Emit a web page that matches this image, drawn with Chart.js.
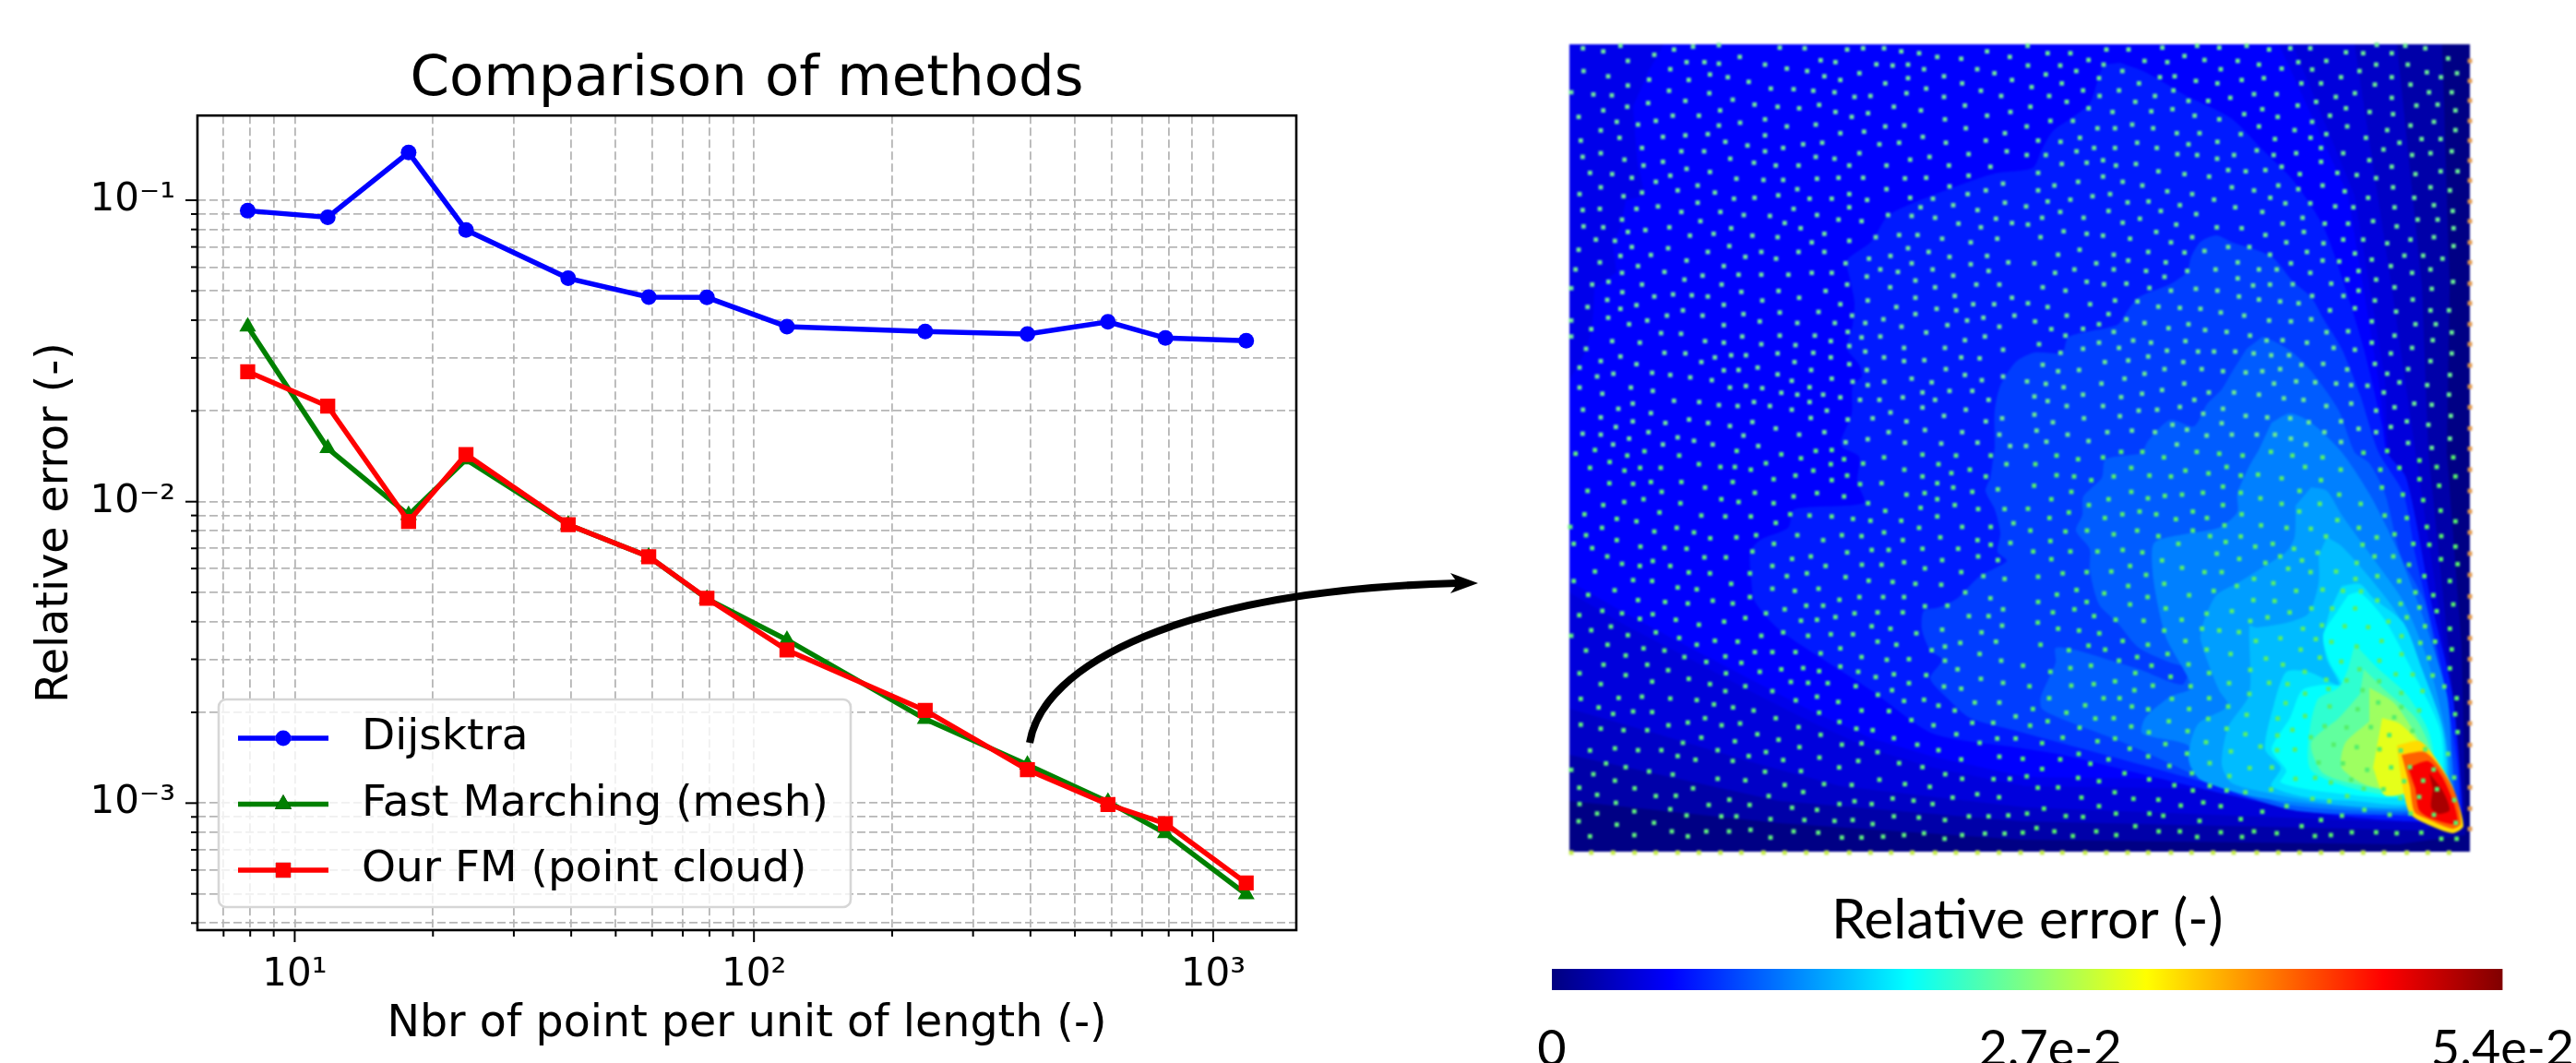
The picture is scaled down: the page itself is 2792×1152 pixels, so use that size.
<!DOCTYPE html>
<html>
<head>
<meta charset="utf-8">
<script src="https://cdn.jsdelivr.net/npm/chart.js@4/dist/chart.umd.js"></script>
<style>
html, body { margin: 0; padding: 0; background: #fff; overflow: hidden; }
#page { position: relative; width: 2792px; height: 1152px; overflow: hidden; }
.box { position: absolute; }
#heatBox { left: 1691px; top: 38px; width: 996px; height: 895px; filter: blur(1.2px); }
#errorBox { left: 0; top: 0; width: 1660px; height: 1152px; }
#barBox { left: 1600px; top: 940px; width: 1192px; height: 212px; }
#arrow { position: absolute; left: 0; top: 0; }
</style>
</head>
<body>
<div id="page">
  <div class="box" id="errorBox"><canvas id="errorChart"></canvas></div>
  <div class="box" id="heatBox"><canvas id="heatChart"></canvas></div>
  <div class="box" id="barBox"><canvas id="barChart"></canvas></div>
  <svg id="arrow" width="2792" height="1152">
    <path d="M1116 805 C1130 720 1280 640 1580 632" fill="none" stroke="#000" stroke-width="8"/>
    <path d="M1602 632 L1572 621 L1580 632 L1572 643 Z" fill="#000"/>
  </svg>
</div>
<script>
// Convergence curves
const pointsPerLength = [7.9, 11.8, 17.7, 23.6, 39.4, 59, 79, 118, 236, 394, 590, 787, 1180];
const dijkstra = [0.0923, 0.0878, 0.144, 0.0797, 0.0551, 0.0477, 0.0476, 0.0381, 0.0367, 0.036, 0.0395, 0.0349, 0.0342];
const fastMarching = [0.0381, 0.01503, 0.00903, 0.0138, 0.00839, 0.00657, 0.00476, 0.00348, 0.0019, 0.00134, 0.00101, 0.000794, 0.000498];
const ourFm = [0.027, 0.02075, 0.0086, 0.01434, 0.00839, 0.00657, 0.00478, 0.00322, 0.00203, 0.00129, 0.00099, 0.000855, 0.000543];
const xGridTicks = [7, 8, 9, 10, 20, 30, 40, 50, 60, 70, 80, 90, 100, 200, 300, 400, 500, 600, 700, 800, 900, 1000];
const yGridTicks = [0.0004, 0.0005, 0.0006, 0.0007, 0.0008, 0.0009, 0.001, 0.002, 0.003, 0.004, 0.005, 0.006, 0.007, 0.008, 0.009, 0.01, 0.02, 0.03, 0.04, 0.05, 0.06, 0.07, 0.08, 0.09, 0.1];
const xDecadeLabels = { 10: '10¹', 100: '10²', 1000: '10³' };
const yDecadeLabels = { 0.001: '10⁻³', 0.01: '10⁻²', 0.1: '10⁻¹' };

// Error field: one value per contour band, outermost first
const fieldLevels = [0.0003, 0.0022, 0.0038, 0.0049, 0.0057, 0.0067, 0.0081, 0.01, 0.0116, 0.0135, 0.0151, 0.0167, 0.0186, 0.0203, 0.0227, 0.0254, 0.0286, 0.0324, 0.0356, 0.0421, 0.0475, 0.0518];
// Contour outlines, on the field axes
const fieldBands = [
  [[1701,48],[2677,48],[2677,923],[1701,923]],
  [[1701,48],[2647,48],[2655,310],[2652,490],[2668,700],[2672,880],[2672,905],[2600,915],[2190,910],[1928,892],[1701,868]],
  [[1701,48],[2598,48],[2625,310],[2632,490],[2652,685],[2665,818],[2670,880],[2628,900],[2190,890],[1928,868],[1701,818]],
  [[1701,48],[2552,48],[2592,310],[2618,490],[2632,585],[2652,718],[2665,852],[2668,885],[2628,892],[2195,875],[1995,852],[1895,825],[1795,795],[1701,768]],
  [[1701,48],[2485,48],[2552,212],[2585,412],[2588,490],[2602,552],[2635,685],[2662,818],[2664,880],[2620,885],[2400,855],[2195,852],[2095,832],[2028,812],[1962,782],[1895,748],[1828,712],[1762,678],[1701,642]],
  [[1803,48],[2470,48],[2545,212],[2578,412],[2595,552],[2628,685],[2655,818],[2662,875],[2620,880],[2400,845],[2195,842],[2095,820],[2028,800],[1962,770],[1895,735],[1828,700],[1762,665],[1701,630],[1701,412],[1718,382],[1725,358],[1727,338],[1728,312],[1752,295],[1748,265],[1757,245],[1762,217],[1783,212],[1775,178],[1772,145],[1770,115],[1788,75]],
  [[2298,68],[2325,78],[2372,105],[2418,128],[2452,162],[2485,195],[2518,245],[2542,312],[2562,378],[2582,462],[2587,490],[2608,518],[2635,652],[2658,752],[2667,852],[2665,885],[2618,890],[2518,882],[2418,862],[2318,838],[2235,818],[2185,810],[2095,795],[2028,748],[1972,712],[1928,682],[1902,652],[1898,628],[1897,598],[1908,585],[1938,572],[1945,552],[2020,545],[2013,522],[2015,495],[1997,485],[1995,478],[2007,448],[2008,418],[2018,408],[2015,395],[2002,378],[2008,352],[2010,328],[2005,302],[2002,282],[2028,262],[2045,235],[2062,225],[2112,205],[2162,188],[2203,182],[2213,162],[2225,142],[2245,128],[2265,112],[2275,82],[2280,70]],
  [[2162,478],[2162,445],[2168,418],[2185,392],[2205,382],[2235,382],[2242,365],[2295,352],[2305,338],[2318,322],[2352,308],[2370,295],[2375,278],[2385,262],[2402,255],[2418,262],[2462,278],[2485,305],[2505,322],[2518,345],[2538,378],[2558,428],[2578,490],[2605,535],[2618,602],[2645,718],[2662,818],[2662,878],[2618,885],[2518,875],[2418,855],[2318,828],[2185,792],[2135,778],[2112,758],[2092,735],[2105,715],[2092,705],[2083,682],[2085,662],[2102,658],[2122,648],[2145,625],[2175,608],[2165,598],[2168,578],[2162,552],[2152,532],[2157,518],[2162,485]],
  [[2452,365],[2465,370],[2485,382],[2505,402],[2535,445],[2552,490],[2568,502],[2585,535],[2602,602],[2628,652],[2645,735],[2658,818],[2658,875],[2618,882],[2568,883],[2485,878],[2402,852],[2368,835],[2302,805],[2232,778],[2213,768],[2212,755],[2228,718],[2228,702],[2252,705],[2295,718],[2318,725],[2365,742],[2372,725],[2352,718],[2318,702],[2295,675],[2275,655],[2265,618],[2265,595],[2250,575],[2257,558],[2258,538],[2278,518],[2282,498],[2318,492],[2322,490],[2328,478],[2352,455],[2378,462],[2392,438],[2408,422],[2418,405],[2435,378]],
  [[2462,458],[2482,448],[2505,458],[2538,490],[2568,535],[2598,595],[2625,665],[2652,752],[2657,818],[2655,872],[2615,880],[2485,873],[2418,852],[2375,832],[2372,808],[2322,795],[2325,778],[2352,755],[2375,745],[2348,692],[2338,652],[2333,618],[2335,588],[2372,578],[2405,572],[2425,555],[2425,535],[2438,505],[2448,488]],
  [[2505,528],[2522,532],[2538,558],[2572,605],[2605,652],[2632,718],[2652,802],[2652,868],[2612,878],[2452,865],[2385,845],[2372,822],[2382,785],[2415,765],[2405,748],[2392,715],[2385,692],[2388,675],[2402,645],[2425,632],[2452,615],[2478,598],[2487,582],[2488,548]],
  [[2522,582],[2538,592],[2565,622],[2598,665],[2625,725],[2650,802],[2650,862],[2608,875],[2532,872],[2452,858],[2418,848],[2408,828],[2415,788],[2438,752],[2438,678],[2445,680],[2478,675],[2502,665],[2513,632],[2513,602]],
  [[2538,635],[2558,633],[2572,648],[2605,675],[2625,725],[2648,792],[2648,855],[2608,872],[2552,868],[2505,865],[2462,852],[2472,832],[2455,812],[2465,762],[2478,728],[2502,728],[2535,742],[2522,715],[2518,692],[2525,662]],
  [[2545,645],[2558,642],[2585,672],[2615,728],[2645,792],[2645,852],[2608,865],[2518,858],[2472,848],[2478,835],[2462,812],[2482,778],[2495,748],[2518,742],[2538,742],[2525,718],[2518,688],[2535,660]],
  [[2552,698],[2578,725],[2608,752],[2632,792],[2638,835],[2612,862],[2552,855],[2505,835],[2502,802],[2512,758],[2535,745],[2545,725]],
  [[2562,725],[2585,748],[2618,778],[2635,818],[2618,858],[2568,853],[2518,838],[2505,805],[2535,778],[2558,752]],
  [[2568,745],[2595,762],[2622,802],[2632,822],[2618,855],[2568,852],[2538,832],[2542,805],[2568,782]],
  [[2582,778],[2602,785],[2625,812],[2615,855],[2585,862],[2572,832]],
  [[2598,808],[2622,803],[2635,815],[2658,852],[2670,895],[2658,903],[2628,892],[2612,882],[2605,858],[2600,825]],
  [[2603,818],[2628,815],[2645,832],[2662,862],[2667,893],[2658,898],[2632,888],[2617,880],[2612,852]],
  [[2610,832],[2632,825],[2647,842],[2660,872],[2663,893],[2635,887],[2622,878],[2618,855]],
  [[2633,838],[2648,858],[2655,878],[2643,882],[2635,875],[2637,855]]
];

// Sample points, read in four crops at 3x: x, y, x, y ... in crop pixels
const dotsNW = [62,22,128,32,184,14,294,43,358,26,420,17,504,12,702,20,783,22,921,26,973,22,1041,22,1097,32,1155,38,1214,50,1376,32,1450,50,1292,56,208,63,399,67,457,67,504,72,572,50,654,75,835,61,883,67,1016,74,1069,78,1119,75,1171,90,1344,90,1400,103,64,96,346,90,725,88,791,96,961,103,475,107,144,113,277,124,406,125,533,116,601,131,847,113,899,125,1119,119,1236,113,1457,125,1295,136,1045,136,208,143,342,160,24,165,96,172,156,175,473,168,673,153,747,155,811,160,880,165,945,180,997,177,1114,168,1178,153,1356,160,1422,177,1236,180,395,193,549,189,274,200,206,212,128,224,620,205,695,212,765,217,830,206,1073,212,1304,208,883,229,989,233,1161,224,1452,229,508,224,48,245,354,241,439,241,936,245,1376,241,1239,253,654,253,172,261,241,270,299,258,573,264,725,276,819,270,504,273,1045,276,1107,273,120,289,1307,282,976,293,468,301,395,305,322,310,181,313,55,322,654,305,899,298,1167,310,1434,298,1372,322,525,326,840,329,778,334,1026,334,1090,329,1242,329,597,338,254,346,713,346,120,363,61,375,382,357,456,357,654,357,961,363,1440,357,1316,366,197,384,541,381,819,375,880,381,1126,384,1189,375,322,391,618,394,259,403,689,403,763,403,928,403,1049,403,1252,403,1387,407,399,414,85,427,157,431,346,436,475,424,221,443,299,456,561,446,649,450,713,450,823,446,893,443,973,443,1109,445,1178,443,1316,436,120,474,435,468,370,484,759,480,1049,480,1254,471,1428,462,1372,484,254,491,491,491,51,496,194,503,697,500,928,496,1313,496,553,511,620,508,799,511,871,511,986,515,1126,508,1200,511,435,524,1434,524,1266,532,928,539,1160,539,306,536,61,548,117,544,236,544,382,554,509,554,747,544,1345,548,585,564,670,567,823,564,1054,564,1131,567,1207,573,189,579,444,584,893,579,968,584,1405,576,718,590,64,601,128,604,343,604,265,613,208,619,544,607,770,607,1283,592,1457,590,1356,604,410,631,487,625,613,631,695,636,847,625,1090,629,1150,629,1014,636,1230,641,104,644,166,648,928,648,1409,641,806,653,1323,653,221,668,339,672,538,665,48,677,468,684,642,684,763,684,847,684,1119,672,1186,684,184,697,283,694,1062,697,1376,697,590,700,690,706,992,706,1254,700,117,718,399,712,916,721,1131,721,1445,718,241,730,520,730,1323,724,38,741,1029,741,1199,741,327,749,1086,749,1381,746,189,752,806,752,871,752,568,758,642,758,730,758,451,761,985,764,1266,761,392,774,1143,777,145,781,92,790,254,790,513,790,921,790,1341,790,1416,790,24,802,1061,799,1207,799,190,815,577,814,698,811,851,811,355,822,294,829,416,825,468,829,765,833,1271,827,1143,833,1457,833,141,840,645,842,988,842,899,854,520,856,77,863,236,857,1331,854,1399,854,1081,863,184,869,1212,869,387,874,1276,874,702,881,828,879,584,886,1143,886,335,891,451,891,937,891,1465,891,144,898,1364,898,24,907,271,907,637,910,1039,903,1311,907,759,915,881,915,980,915,212,919,520,922,1247,922,1098,927,1416,927,89,935,316,948,381,950,923,944,1178,946,24,959,580,959,702,956,816,956,968,962,1029,959,1369,959,157,974,459,974,247,979,520,979,642,984,868,974,1304,971,753,987,928,990,72,999,1106,996,1239,996,1428,1002,980,1008,327,1012,395,1014,695,1014,811,1012,544,1020,592,1020,184,1024,491,1027,868,1027,1041,1027,1292,1027,1352,1030,120,1039,447,1042,750,1042,1106,1039,1172,1036,236,1049,928,1049,51,1060,568,1068,630,1060,520,1069,804,1068,985,1068,1242,1065,161,1080,287,1077,695,1082,346,1084,108,1089,411,1092,1304,1084,1428,1089,871,1096,1131,1096,481,1101,741,1103,939,1106,1042,1106,1196,1108,1359,1101,51,1125,218,1125,540,1125,592,1120,645,1127,799,1124,289,1136,988,1117,125,1145,707,1142,1254,1136,1328,1136,1166,1141,759,1148,843,1148,899,1157,1102,1157,358,1168,440,1172,618,1172,963,1165,1026,1165,1207,1165,1381,1165,799,1172,224,1177,504,1182,565,1185,670,1185,177,1194,62,1197,741,1197,855,1200,1166,1190,1307,1197,283,1208,1062,1206,120,1222,803,1224,407,1229,1004,1225,1236,1217,1425,1225,224,1235,330,1240,469,1240,613,1237,923,1229,1114,1235,1372,1235,169,1253,540,1250,689,1258,1174,1263,275,1270,847,1270,1056,1270,1295,1270,61,1275,120,1278,765,1278,584,1281,1416,1278,212,1291,370,1287,423,1298,916,1303,988,1293,1109,1304,1227,1307,1345,1304,1451,1315,160,1310,322,1310,484,1310,632,1315];
const dotsNE = [38,14,103,38,177,38,294,26,366,26,476,20,589,14,661,20,750,14,823,26,892,22,957,22,1073,35,1129,38,1173,11,1222,38,1266,14,1331,22,39,78,144,78,236,60,285,75,418,63,492,67,548,47,613,60,721,63,790,75,918,67,1009,63,1171,75,1274,75,1405,55,97,107,196,96,346,96,666,90,864,88,963,91,1117,96,1336,100,1434,103,270,119,468,116,516,113,585,128,734,125,806,119,1057,116,1222,116,1382,116,149,136,51,148,400,136,655,136,928,136,992,136,1167,140,1283,140,218,159,335,159,512,159,108,177,272,177,452,177,774,171,848,171,1102,168,1343,165,1417,165,697,183,1040,180,1222,183,165,196,388,196,561,193,625,193,976,196,47,212,916,208,1302,208,1371,205,236,217,509,220,801,220,1073,217,314,229,440,227,1150,229,1429,224,742,236,1226,236,581,241,851,245,1021,241,661,253,112,258,185,258,963,261,1359,261,378,270,35,276,790,276,1077,276,1283,273,265,282,322,282,446,282,906,288,1207,288,1429,288,523,298,597,298,731,301,1009,301,208,313,958,313,1138,313,842,317,1319,317,1381,317,72,322,145,326,394,329,655,326,1247,329,561,334,254,346,322,346,458,346,992,346,1195,351,197,357,783,354,1417,357,35,369,97,369,525,366,589,369,709,369,911,363,1064,363,1348,363,838,369,1288,369,654,381,1149,386,283,386,230,394,992,391,149,398,390,398,325,403,864,407,1222,407,72,427,463,422,690,418,747,422,811,418,1381,422,1436,422,548,431,923,431,1045,427,1108,434,283,439,628,439,1299,431,1171,444,202,456,347,456,125,468,411,468,853,468,997,468,702,474,1226,474,1348,474,72,484,492,487,774,484,918,480,1069,487,1411,484,306,496,573,496,249,503,827,508,1145,508,1295,508,103,520,177,514,644,514,363,523,431,520,876,526,957,526,33,536,533,532,713,539,1038,536,1097,539,1231,539,1359,532,144,554,301,551,471,551,801,554,586,561,1420,551,85,573,220,573,403,576,932,573,1306,579,1371,579,1161,584,347,589,39,595,521,595,867,592,1004,592,1080,592,1238,601,653,604,734,607,1423,607,155,617,456,619,936,619,230,625,811,629,283,631,80,636,371,641,573,636,1064,644,1129,644,1283,644,1359,636,504,653,879,653,1000,656,1207,656,690,668,759,668,1423,665,207,677,430,684,613,681,548,686,137,693,318,693,826,693,946,684,1102,689,1263,696,1324,696,60,721,261,721,365,712,487,718,721,718,997,712,1051,715,1157,709,1387,706,894,721,1219,730,190,741,318,741,649,741,790,741,848,741,1348,741,127,752,423,746,557,746,1114,746,957,752,1288,752,483,765,721,770,1077,774,1171,774,230,781,1421,781,286,789,359,787,771,793,826,790,900,789,1025,787,87,799,434,801,585,804,1231,799,161,810,504,810,655,810,1114,810,1352,804,725,829,963,827,1065,827,322,842,790,839,1167,842,1290,839,395,845,859,845,39,851,241,854,919,851,103,863,463,862,533,866,600,869,1102,867,1021,874,1236,878,1348,874,1408,874,666,881,165,891,301,886,742,891,359,903,823,907,894,910,960,903,1157,910,1299,919,418,915,62,910,270,919,561,919,1365,919,496,932,115,935,218,934,615,938,685,944,318,944,1010,945,1080,942,1417,946,761,956,161,956,1231,956,381,972,551,974,270,979,815,972,867,971,75,984,439,979,946,979,1157,979,1355,971,218,999,335,996,491,1005,1033,996,1288,996,1102,1002,592,1008,644,1008,713,1008,145,1012,773,1014,830,1020,888,1020,1219,1014,1417,1014,430,1024,365,1037,289,1042,544,1042,999,1048,1167,1048,1348,1039,928,1051,87,1051,859,1065,483,1065,604,1065,205,1068,137,1072,673,1072,747,1076,801,1072,1077,1066,1275,1065,418,1080,1207,1080,1411,1084,353,1096,36,1105,911,1105,973,1108,278,1112,547,1112,97,1113,839,1112,1041,1112,1090,1117,1143,1119,1247,1108,1337,1117,155,1124,475,1133,410,1145,627,1141,709,1141,790,1148,218,1148,1196,1141,1408,1148,60,1154,342,1156,871,1160,103,1169,580,1165,935,1165,1295,1177,1090,1177,1352,1181,165,1185,283,1185,533,1188,1009,1185,1231,1189,399,1200,459,1197,673,1194,1171,1200,60,1213,609,1210,338,1218,221,1225,747,1217,817,1222,1414,1217,892,1225,120,1238,509,1246,669,1241,952,1238,1057,1235,1271,1235,1341,1246,67,1265,556,1262,377,1265,1114,1259,1219,1253,168,1278,297,1270,452,1270,702,1278,783,1278,842,1278,620,1281,1003,1270,1171,1270,894,1291,1411,1291,99,1301,236,1299,33,1315,523,1310,943,1310,1057,1302,1275,1305,1352,1321];
const dotsSW = [38,20,101,8,206,26,262,12,375,26,562,11,707,22,819,11,871,8,1041,32,1166,23,1275,26,1388,26,149,47,771,35,657,51,911,38,973,52,439,54,868,54,1218,54,1439,54,85,66,197,75,248,66,315,66,509,63,556,63,608,72,811,75,1107,72,1320,72,1260,83,753,91,921,91,682,103,871,106,1166,94,1372,94,148,116,225,118,283,112,382,112,549,112,963,119,1033,116,1214,116,459,130,1266,130,77,141,318,144,621,147,823,148,1114,153,1173,148,1328,144,1411,136,747,159,911,159,259,168,512,168,196,177,568,177,379,181,682,181,1214,168,128,187,989,181,1271,187,1160,196,1045,206,1347,200,1433,200,311,211,67,217,736,217,799,221,1214,224,447,221,525,224,608,224,871,224,172,232,236,240,940,232,997,238,1097,238,689,245,1462,246,124,261,367,261,1155,261,1295,258,1388,258,21,258,294,273,423,276,72,285,759,285,625,285,904,285,968,288,1041,276,476,295,561,292,1224,292,172,301,843,301,1102,301,1345,301,683,313,32,313,1452,310,1388,316,92,327,249,322,327,326,399,329,1166,329,1282,329,1001,333,1056,333,613,338,921,341,141,354,457,357,527,357,803,354,1347,354,742,362,1411,366,1230,366,289,369,189,378,247,385,346,385,678,385,969,381,1033,381,851,385,1106,373,1174,393,101,403,406,406,475,409,605,409,790,409,1292,405,725,418,916,421,1364,418,1433,427,32,434,225,431,287,434,991,433,1069,437,1143,443,544,443,1227,446,370,455,432,461,165,464,678,459,828,459,751,466,1305,471,79,479,605,486,241,496,484,498,896,495,961,486,1038,486,1106,486,1387,490,329,502,403,507,549,507,788,514,843,514,1174,516,1247,514,1428,526,718,526,125,531,50,545,189,539,289,542,657,539,945,539,1020,536,1102,536,1317,548,1381,548,247,557,364,560,590,554,883,551,771,563,823,560,521,566,439,576,153,582,1001,581,1062,589,1425,579,1230,592,89,594,299,601,208,610,24,612,713,601,794,612,868,607,940,607,1146,604,1358,601,642,612,375,619,491,628,565,631,1020,631,1405,631,1289,635,142,641,432,641,1081,641,1239,647,72,660,259,653,327,660,621,665,678,665,753,665,899,653,1196,659,835,669,201,676,392,681,525,679,968,681,1352,671,1050,690,1122,688,463,697,577,700,1239,693,1422,693,129,706,271,706,899,712,778,717,339,724,637,729,707,721,830,727,957,729,1280,721,51,734,527,734,201,740,1073,737,1178,740,406,752,1014,746,1356,752,287,761,738,762,794,765,858,766,475,769,120,769,1122,766,1428,765,590,776,949,776,1236,777,1292,784,1067,789,525,792,678,792,1021,804,254,810,178,814,346,816,55,817,432,821,823,810,754,822,1106,824,1171,820,892,827,488,835,1336,829,1416,829,1218,839,113,845,550,845,617,855,968,855,1057,857,1271,855,225,858,287,860,160,866,830,862,459,880,689,880,1469,874,1130,886,403,894,573,897,896,892,55,901,340,903,513,903,1328,895,1396,895,1202,903,120,914,194,919,271,919,763,909,951,914,1004,919,629,932,835,934,1276,932,447,943,698,950,1073,945,1409,946,1469,946,556,955,387,960,968,962,1352,960,904,966,1149,966,766,974,166,978,85,985,241,984,317,984,500,984,657,990,1020,990,1218,984,601,1003,370,1003,428,1015,831,1008,1416,1005,549,1019,713,1016,957,1019,1292,1014,137,1027,1090,1026,201,1039,895,1040,1166,1039,24,1048,277,1053,654,1054,771,1052,96,1062,354,1063,1240,1062,500,1077,590,1082,166,1083,1026,1080,1295,1077,1397,1078,1450,1077,718,1097,846,1094,936,1097,1109,1094,50,1106,230,1108,420,1108,1190,1103,778,1120,108,1129,299,1133,364,1132,666,1133,1344,1127,1264,1138,1415,1137,538,1145,945,1150,1069,1141,1137,1148,51,1159,169,1155,471,1162,604,1162,896,1159,1001,1159,1199,1159,742,1171,346,1176,823,1178,229,1183,108,1190,399,1196,512,1199,561,1199,1073,1199,1154,1203,1317,1199,1381,1199,1445,1196,672,1208,782,1211,880,1214,939,1211,1239,1211,48,1215,293,1220,172,1226,1004,1224,351,1248,463,1248,537,1248,607,1243,747,1248,827,1252,1171,1254,1369,1255,1433,1255,229,1260,85,1264,403,1264,672,1268,904,1268,968,1268,1038,1265,1106,1260,1295,1260,1238,1272];
const dotsSE = [132,26,202,38,283,32,342,14,411,14,481,32,588,14,661,20,737,26,829,14,899,26,997,32,1130,17,1207,11,1312,42,1422,32,63,54,375,66,551,75,685,63,940,63,1056,72,1185,72,1247,66,1368,63,132,90,189,94,245,106,318,94,434,91,504,94,626,84,731,91,787,88,864,100,992,106,1312,103,1429,94,59,124,673,127,1190,130,1376,124,180,144,375,144,922,141,731,147,540,153,608,147,1051,153,1258,153,115,168,301,168,429,165,484,157,795,165,1324,171,237,187,673,187,864,183,988,183,1121,183,39,199,1381,205,402,208,172,211,575,208,921,208,734,217,1199,221,346,217,456,217,109,229,289,229,621,229,520,233,1271,229,1045,236,1429,240,797,253,678,253,47,270,161,273,231,270,394,270,575,270,959,264,880,261,1115,261,1336,258,318,282,463,288,631,288,731,289,1231,282,1008,289,1173,292,1383,288,112,304,528,313,682,307,778,322,835,313,1127,316,1292,313,1344,316,1429,322,56,338,177,338,265,338,347,333,411,341,653,345,904,329,981,342,115,363,859,354,475,367,1166,354,1227,354,726,362,930,367,1382,363,811,375,371,385,540,391,152,409,310,403,885,394,1108,375,1278,381,1436,379,230,405,613,405,669,405,1041,403,958,405,72,420,423,414,774,427,1175,418,1328,418,1104,427,1246,434,1411,434,482,443,837,441,718,450,365,450,1299,471,197,463,643,466,911,466,997,462,287,474,1063,466,1122,468,1357,480,133,478,428,486,563,480,772,496,841,499,72,502,230,502,1175,497,371,510,1422,510,1251,508,1028,523,1103,523,487,523,190,526,1312,520,961,523,702,532,120,536,620,540,890,536,254,548,818,552,1368,532,1271,552,539,560,415,563,762,564,324,560,71,569,1211,566,1330,581,137,589,205,595,1069,581,1145,584,605,589,661,595,482,595,933,589,995,578,1411,589,725,600,271,604,1254,613,860,620,347,629,429,641,975,623,1026,632,1189,629,551,629,780,629,80,641,1363,631,236,644,1108,647,1315,635,290,657,172,659,620,657,926,657,1417,656,698,671,493,671,394,681,988,683,335,693,1254,672,1058,696,813,686,1182,693,1343,684,23,709,177,717,244,709,441,709,561,705,868,706,1117,721,1411,718,112,729,388,733,1355,741,762,723,628,733,939,729,1009,755,1235,737,1290,738,503,745,44,776,322,760,253,769,180,774,445,774,693,766,568,776,823,765,883,769,1075,757,1181,760,1393,777,385,789,1127,789,940,800,1016,785,1253,798,1322,792,759,801,108,815,285,815,337,815,507,817,628,815,1433,815,1178,829,225,838,877,831,55,850,377,842,430,851,563,850,690,842,1020,842,1111,851,1253,844,1311,855,1428,867,164,862,750,869,851,881,1230,877,940,873,258,881,318,880,103,890,625,882,46,904,375,907,497,890,1004,906,1154,909,1075,910,1289,921,207,911,685,914,899,918,432,926,558,922,850,936,959,942,1214,935,1436,925,746,932,152,943,322,946,85,961,265,955,618,958,795,972,1033,966,1108,974,486,964,370,979,907,982,699,988,849,984,1182,981,1331,981,1251,985,204,996,430,1004,556,995,1405,996,22,1012,144,1014,301,1014,1063,1027,984,1024,242,1028,630,1026,499,1035,85,1045,760,1042,1142,1048,832,1040,1281,1039,1220,1040,1358,1047,35,1069,353,1059,572,1059,694,1068,909,1077,973,1074,1024,1089,1090,1080,1262,1085,1324,1083,1425,1073,202,1074,270,1085,433,1079,71,1106,137,1105,515,1098,630,1100,575,1115,830,1112,1131,1109,1195,1111,685,1115,321,1121,746,1121,1369,1111,213,1138,382,1142,463,1145,964,1142,1077,1133,1250,1140,1311,1136,1425,1146,1019,1150,609,1154,536,1164,270,1166,91,1174,666,1166,880,1166,36,1190,162,1198,325,1190,434,1190,801,1184,218,1201,479,1197,1133,1178,1060,1197,1215,1194,1283,1190,1359,1194,597,1214,731,1208,992,1211,1430,1220,67,1237,388,1231,929,1231,125,1248,261,1248,464,1248,533,1248,666,1251,774,1248,22,1252,1092,1251,1171,1251,1238,1254,1318,1252,185,1263,326,1260,589,1266,735,1266,848,1254,972,1263,1024,1260,1383,1272,1433,1272];
// Right edge (crop y) and bottom edge (crop x) rows
const rightEdgeNE = [63, 128, 192, 258, 322, 387, 452, 520, 584, 653, 718, 787, 851, 919, 984, 1053, 1122, 1189, 1258];
const rightEdgeSE = [4, 72, 141, 208, 276, 345, 414, 484, 551, 620, 688, 760, 829, 897, 967, 1035, 1105, 1174, 1240];
const bottomEdgeSW = [24, 89, 160, 230, 299, 370, 439, 509, 577, 649, 718, 788, 854, 928, 997, 1064, 1133, 1207, 1275, 1345, 1415];
const bottomEdgeSE = [15, 85, 151, 225, 294, 363, 430, 504, 571, 641, 708, 783, 853, 922, 992, 1061, 1129, 1197, 1271, 1339, 1408];

const colorbarRange = [0, 0.054];
// the middle label sits right of the true midpoint in the picture
const colorbarTicks = [0, 0.0283, 0.054];
const colorbarLabels = { 0: '0', 0.0283: '2.7e-2', 0.054: '5.4e-2' };

function jet(v) {
  const c = t => Math.round(255 * Math.max(0, Math.min(1, t)));
  return `rgb(${c(1.5 - Math.abs(4 * v - 3))},${c(1.5 - Math.abs(4 * v - 2))},${c(1.5 - Math.abs(4 * v - 1))})`;
}

const sans = 'DejaVu Sans';
const gridColor = '#b6b6b6';

// Spines, tick marks and the boxed legend
const frameAndLegend = {
  id: 'frameAndLegend',
  beforeDatasetsDraw(chart) {
    const { ctx, chartArea: a, scales } = chart;
    ctx.save();
    ctx.strokeStyle = '#000';
    ctx.lineWidth = 2;
    xGridTicks.forEach(v => {
      const x = scales.x.getPixelForValue(v);
      ctx.beginPath();
      ctx.moveTo(x, a.bottom);
      ctx.lineTo(x, a.bottom + (xDecadeLabels[v] ? 13 : 7));
      ctx.stroke();
    });
    yGridTicks.forEach(v => {
      const y = scales.y.getPixelForValue(v);
      ctx.beginPath();
      ctx.moveTo(a.left, y);
      ctx.lineTo(a.left - (yDecadeLabels[v] ? 13 : 7), y);
      ctx.stroke();
    });
    ctx.restore();
  },
  afterDatasetsDraw(chart) {
    const { ctx, chartArea: a } = chart;
    ctx.save();
    ctx.strokeStyle = '#000';
    ctx.lineWidth = 2.6;
    ctx.strokeRect(a.left, a.top, a.right - a.left, a.bottom - a.top);
    ctx.beginPath();
    ctx.roundRect(237, 758, 685, 225, 8);
    ctx.fillStyle = 'rgba(255,255,255,0.8)';
    ctx.fill();
    ctx.strokeStyle = '#d6d6d6';
    ctx.lineWidth = 2.6;
    ctx.stroke();
    ctx.textBaseline = 'middle';
    ctx.font = `47px "${sans}"`;
    chart.data.datasets.forEach((ds, i) => {
      const y = 800 + i * 71.5;
      ctx.strokeStyle = ds.borderColor;
      ctx.lineWidth = 5.5;
      ctx.beginPath();
      ctx.moveTo(258, y);
      ctx.lineTo(356, y);
      ctx.stroke();
      Chart.helpers.drawPoint(ctx, { pointStyle: ds.pointStyle, radius: ds.pointRadius, borderWidth: 0, rotation: 0 }, 307, y);
      ctx.fillStyle = ds.borderColor;
      ctx.fill();
      ctx.fillStyle = '#000';
      ctx.fillText(ds.label, 392, y);
    });
    ctx.restore();
  }
};

function curve(label, values, color, pointStyle, pointRadius, order) {
  return {
    label,
    data: pointsPerLength.map((x, i) => ({ x, y: values[i] })),
    borderColor: color,
    backgroundColor: color,
    borderWidth: 5.5,
    pointStyle,
    pointRadius,
    pointBorderWidth: 0,
    tension: 0,
    order
  };
}

new Chart(document.getElementById('errorChart'), {
  type: 'line',
  data: {
    datasets: [
      curve('Dijsktra', dijkstra, '#0000ff', 'circle', 8.5, 3),
      curve('Fast Marching (mesh)', fastMarching, '#008000', 'triangle', 10.5, 2),
      curve('Our FM (point cloud)', ourFm, '#ff0000', 'rect', 11.5, 1)
    ]
  },
  options: {
    responsive: true,
    maintainAspectRatio: false,
    animation: false,
    events: [],
    layout: { padding: { left: 32, right: 255, top: 0, bottom: 0 } },
    plugins: {
      legend: { display: false },
      tooltip: { enabled: false },
      title: {
        display: true,
        fullSize: false,
        text: 'Comparison of methods',
        color: '#000',
        font: { family: sans, size: 61, weight: 'normal' },
        padding: { top: 51, bottom: 1 }
      }
    },
    scales: {
      x: {
        type: 'logarithmic',
        min: 6.14,
        max: 1517,
        afterBuildTicks: s => { s.ticks = xGridTicks.map(v => ({ value: v })); },
        afterFit: s => { s.height = 144; },
        grid: { drawTicks: false, color: gridColor, lineWidth: 1.8 },
        border: { display: false, dash: [9, 4] },
        ticks: {
          autoSkip: false,
          maxRotation: 0,
          color: '#000',
          padding: 24,
          font: { family: sans, size: 42 },
          callback: v => xDecadeLabels[v] || ''
        },
        title: { display: true, text: 'Nbr of point per unit of length (-)', color: '#000', font: { family: sans, size: 47.5 }, padding: { top: 0, bottom: 13 } }
      },
      y: {
        type: 'logarithmic',
        min: 0.000379,
        max: 0.191,
        afterBuildTicks: s => { s.ticks = yGridTicks.map(v => ({ value: v })); },
        afterFit: s => { s.width = 182; },
        grid: { drawTicks: false, color: gridColor, lineWidth: 1.8 },
        border: { display: false, dash: [9, 4] },
        ticks: {
          autoSkip: false,
          color: '#000',
          padding: 24,
          font: { family: sans, size: 42 },
          callback: v => yDecadeLabels[+v.toPrecision(3)] || ''
        },
        title: { display: true, text: 'Relative error (-)', color: '#000', font: { family: sans, size: 47.5 }, padding: { top: 0, bottom: 6 } }
      }
    }
  },
  plugins: [frameAndLegend]
});

// Crop pixels back to field axes (crops were taken at 3x)
function placeDots(flat, originX, originY) {
  const out = [];
  for (let i = 0; i < flat.length; i += 2) {
    out.push({ x: originX + flat[i] / 3, y: originY + flat[i + 1] / 3 });
  }
  return out;
}

function dotSet(points, color, order) {
  return {
    data: points,
    pointStyle: 'rect',
    pointRadius: 3.4,
    pointBorderWidth: 0,
    backgroundColor: color,
    clip: false,
    order
  };
}

const rightEdge = rightEdgeNE.map(y => ({ x: 2677, y: 45 + y / 3 })).concat(rightEdgeSE.map(y => ({ x: 2677, y: 485 + y / 3 })));
const bottomEdge = bottomEdgeSW.map(x => ({ x: 1695 + x / 3, y: 924 })).concat(bottomEdgeSE.map(x => ({ x: 2185 + x / 3, y: 924 })));

new Chart(document.getElementById('heatChart'), {
  type: 'scatter',
  data: {
    datasets: fieldBands.map((band, i) => ({
      data: band.map(p => ({ x: p[0], y: p[1] })),
      showLine: true,
      fill: 'shape',
      tension: i < 6 ? 0 : 0.25,
      borderWidth: 0,
      backgroundColor: jet(fieldLevels[i] / colorbarRange[1]),
      pointRadius: 0,
      order: 10 + fieldBands.length - i
    })).concat([
      dotSet(placeDots(dotsNW, 1695, 45), '#6fe69a', 1),
      dotSet(placeDots(dotsNE, 2185, 45), '#68e892', 1),
      dotSet(placeDots(dotsSW, 1695, 485), '#5eee7c', 1),
      dotSet(placeDots(dotsSE, 2185, 485), '#55f06a', 1),
      dotSet(rightEdge, '#e09a50', 1),
      dotSet(bottomEdge, '#c6ee4a', 1)
    ])
  },
  options: {
    responsive: true,
    maintainAspectRatio: false,
    animation: false,
    events: [],
    layout: { padding: 10 },
    plugins: { legend: { display: false }, tooltip: { enabled: false } },
    scales: {
      x: { display: false, min: 1701, max: 2677 },
      y: { display: false, min: 48, max: 923, reverse: true }
    }
  }
});

new Chart(document.getElementById('barChart'), {
  type: 'bar',
  data: {
    labels: ['error'],
    datasets: [{
      data: [colorbarRange],
      barPercentage: 1,
      categoryPercentage: 1,
      backgroundColor: ctx => {
        const a = ctx.chart.chartArea;
        if (!a) return '#000';
        const g = ctx.chart.ctx.createLinearGradient(a.left, 0, a.right, 0);
        for (let i = 0; i <= 16; i++) g.addColorStop(i / 16, jet(i / 16));
        return g;
      }
    }]
  },
  options: {
    indexAxis: 'y',
    responsive: true,
    maintainAspectRatio: false,
    animation: false,
    events: [],
    layout: { padding: { left: 82, right: 79.5, top: 0, bottom: 0 } },
    plugins: {
      legend: { display: false },
      tooltip: { enabled: false },
      title: {
        display: true,
        text: 'Relative error (-)',
        color: '#000',
        font: { family: 'Lato', size: 60, weight: 'normal' },
        padding: { top: 22, bottom: 16 }
      }
    },
    scales: {
      x: {
        min: colorbarRange[0],
        max: colorbarRange[1],
        afterBuildTicks: s => { s.ticks = colorbarTicks.map(v => ({ value: v })); },
        afterFit: s => { s.height = 79; s.paddingLeft = 0; s.paddingRight = 0; },
        grid: { display: false },
        border: { display: false },
        ticks: {
          autoSkip: false,
          maxRotation: 0,
          color: '#000',
          padding: 24,
          font: { family: 'Lato', size: 54 },
          callback: v => colorbarLabels[v]
        }
      },
      y: { display: false }
    }
  }
});
</script>
</body>
</html>
